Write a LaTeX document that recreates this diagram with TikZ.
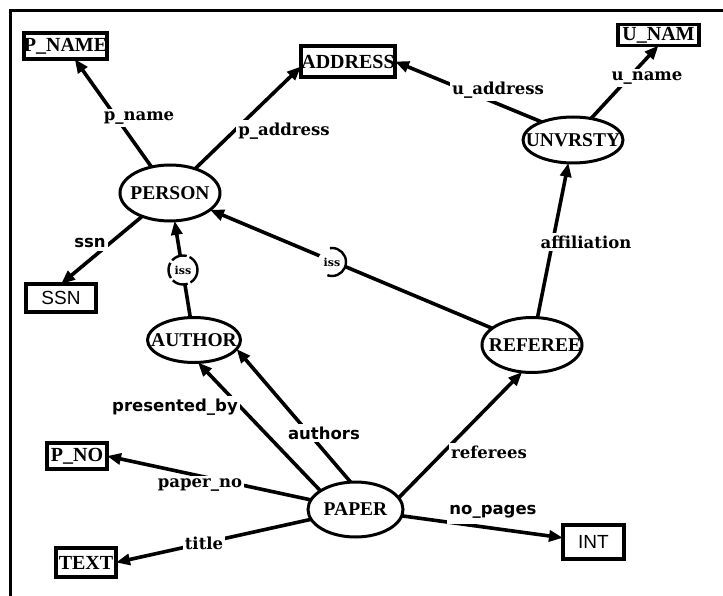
\documentclass[tikz,border=0pt]{standalone}
\usepackage{fontspec}
\setmainfont{DejaVu Serif}
\newfontfamily\sansfam{DejaVu Sans}
\newfontfamily\namefam{Liberation Serif}
\newfontfamily\typefam{Liberation Sans}
\usetikzlibrary{arrows.meta,shapes.geometric}

\newcommand{\fsz}[1]{\fontsize{#1}{#1}\selectfont}

\begin{document}
\begin{tikzpicture}[x=1pt,y=-1pt,
  every node/.style={inner sep=0pt, outer sep=0pt},
  entity/.style={draw, line width=3pt, ellipse, font=\namefam\bfseries\fsz{19.5}},
  valbox/.style={draw, line width=3.2pt, rectangle, font=\namefam\bfseries\fsz{20}},
  sansbox/.style={valbox, font=\typefam\fsz{19}},
  link/.style={line width=3.6pt},
  arr/.style={link, -{Triangle[length=14pt,width=11pt]}},
  role/.style={fill=white, inner xsep=2pt, inner ysep=3pt, font=\bfseries\fsz{16.5}},
  srole/.style={role, font=\sansfam\bfseries\fsz{16.5}},
  isa/.style={circle, draw, fill=white, line width=2.4pt, minimum size=29pt, font=\bfseries\fsz{11}},
]
\useasboundingbox (0,0) rectangle (723,596);

% page frame
\draw[line width=3pt] (723,11) -- (10,11) -- (10,596);

% value types
\node[valbox, minimum width=83pt, minimum height=26pt] (pname) at (65.5,46) {\makebox[0pt]{P\_NAME}};
\node[valbox, minimum width=94pt, minimum height=31pt] (address) at (348,61.5) {\makebox[0pt]{ADDRESS}};
\node[valbox, minimum width=81pt, minimum height=21pt] (unam) at (658.5,35) {\makebox[0pt]{U\_NAM}};
\node[sansbox, minimum width=70pt, minimum height=28pt] (ssn) at (61,298) {\makebox[0pt]{SSN}};
\node[valbox, minimum width=60pt, minimum height=26pt] (pno) at (77,456) {\makebox[0pt]{P\_NO}};
\node[valbox, minimum width=60pt, minimum height=29pt] (text) at (86,562.5) {\makebox[0pt]{TEXT}};
\node[sansbox, minimum width=61pt, minimum height=34pt] (int) at (593.5,542) {\makebox[0pt]{INT}};

% entity types
\node[entity, minimum width=100pt, minimum height=56pt] (person) at (170,193) {\makebox[0pt]{PERSON}};
\node[entity, minimum width=93pt, minimum height=45pt] (author) at (194,340) {\makebox[0pt]{AUTHOR}};
\node[entity, minimum width=100pt, minimum height=46pt] (univ) at (573,140) {\makebox[0pt]{UNVRSTY}};
\node[entity, minimum width=100pt, minimum height=55pt] (referee) at (532,345) {\makebox[0pt]{\kern6pt REFEREE}};
\node[entity, minimum width=95pt, minimum height=55pt] (paper) at (355.5,509.5) {\makebox[0pt]{PAPER}};

% functions
\draw[arr] (person) -- (pname);
\draw[arr] (person) -- (address.186);
\draw[arr] (univ.150) -- (address.east);
\draw[arr] (univ.50) -- (unam.south);
\draw[arr] (person.220) -- (ssn.north);
\draw[arr] (author) -- (person);
\draw[arr] (referee) -- (person);
\draw[arr] (referee) -- (univ);
\draw[arr] (paper.152) -- (author.-80);
\draw[arr] (paper.100) -- (author.-12);
\draw[arr] (paper) -- (pno.east);
\draw[arr] (paper) -- (text.east);
\draw[arr] (paper.15) -- (referee.-110);
\draw[arr] (paper) -- (int);

% subtype markers
\node[isa, dash pattern=on 16pt off 3pt] (isa1) at (183,270) {iss};
\node[isa, minimum size=28pt, dash pattern=on 24pt off 37pt on 30pt] (isa2) at (332,262) {iss};

% function names
\node[role] (lpname) at (139,118) {p\_name};
\node[role] (lpaddr) at (284,131) {p\_address};
\node[role] (luaddr) at (498,90) {u\_address};
\node[role] (luname) at (647,78) {u\_name};
\node[srole] (lssn) at (90,243) {ssn};
\node[role] (laffil) at (586,242) {affiliation};
\node[srole] (lpres) at (175,407) {presented\_by};
\node[srole] (lauth) at (324,433) {authors};
\node[role] (lpno) at (200,485) {paper\_no};
\node[role] (ltitle) at (204,543) {title};
\node[role] (lref) at (489,452) {referees};
\node[srole, inner ysep=5pt] (lpages) at (493,512) {no\_pages};
\end{tikzpicture}
\end{document}
